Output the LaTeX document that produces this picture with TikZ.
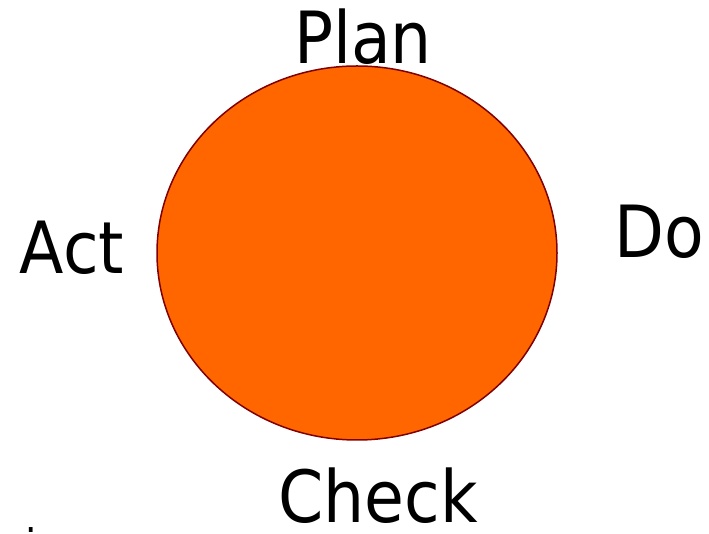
\documentclass[tikz,border=0pt]{standalone}
\usepackage{fontspec}
\setmainfont{DejaVu Sans Condensed}
\usepackage{xcolor}
\usepackage{tikz}
\usetikzlibrary{shapes.geometric,positioning}
\definecolor{pdcafill}{HTML}{FF6600}
\definecolor{pdcaedge}{HTML}{800000}
\tikzset{
  cycle/.style ={ellipse,draw=pdcaedge,line width=1.5pt,fill=pdcafill,
                 minimum width=400pt,minimum height=374pt,inner sep=0pt},
  stage/.style ={anchor=base,inner sep=0pt,text depth=0pt,
                 font=\fontsize{72}{80}\selectfont},
  stray/.style ={anchor=base,inner sep=0pt,text depth=0pt,
                 font=\fontsize{40}{44}\selectfont}
}
\begin{document}
\begin{tikzpicture}[x=1pt,y=1pt]
        \useasboundingbox (0,0) rectangle (709,534);
        \node[cycle] (pdca) at (357,281) {};
        \node[stage] (plan) at (363,470) {Plan};
        \node[stage] (do) at (659,276) {Do};
        \node[stage] (check) at (378,11) {Check};
        \node[stage] (act) at (72,260) {Act};
        \node[stray] (dot) at (31,1) {.};
      \end{tikzpicture}
\end{document}
